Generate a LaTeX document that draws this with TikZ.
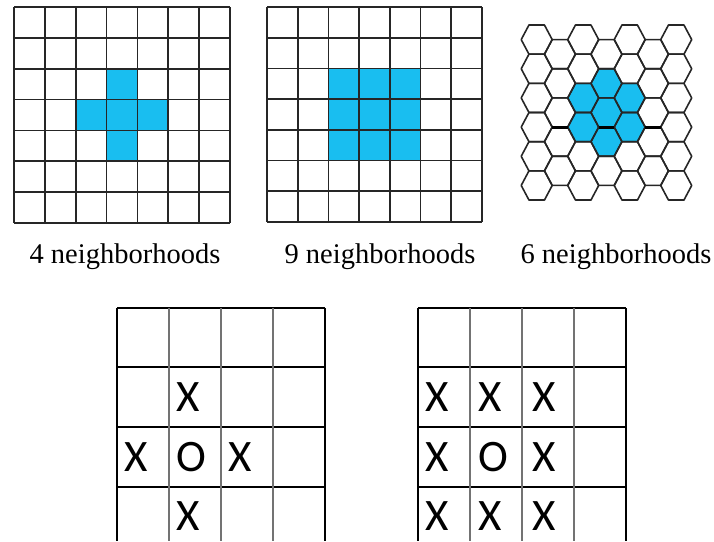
\documentclass[tikz,border=0pt]{standalone}
\usepackage{fontspec}
\setmainfont{Liberation Serif}
\newfontfamily\letterfont{Carlito}
\definecolor{cellblue}{RGB}{25,190,240}

\begin{document}
\begin{tikzpicture}[
    x=1pt, y=-1pt,
    gridline/.style={draw=black!85,line width=1.8pt},
    hexline/.style={draw=black!85,line width=1.6pt,line join=round},
    caption/.style={font=\fontsize{28.5}{30}\selectfont,inner sep=0pt,anchor=base},
    letter/.style={font=\letterfont\fontsize{45}{45}\selectfont,inner sep=0pt,anchor=west},
    rowline/.style={draw=black,line width=1.1pt},
    colline/.style={draw=black!55,line width=1.5pt},
    hexcell/.pic={\path[pic actions] (-15.5,0) -- (-7.75,-14.58) -- (7.75,-14.58) -- (15.5,0) -- (7.75,14.58) -- (-7.75,14.58) -- cycle;}
]
\useasboundingbox (0,0) rectangle (714,541);

% 4 邻域方格
\foreach \c/\r in {3/2,2/3,3/3,4/3,3/4}
    \fill[cellblue] ({14+30.86*\c},{7+30.86*\r}) rectangle ++(30.86,30.86);
\foreach \i in {0,...,7} {
    \draw[gridline] ({14+30.86*\i},7) -- ({14+30.86*\i},223);
    \draw[gridline] (14,{7+30.86*\i}) -- (230,{7+30.86*\i});
}

% 9 邻域方格
\foreach \c in {2,3,4}
    \foreach \r in {2,3,4}
        \fill[cellblue] ({267+30.7*\c},{7+30.7*\r}) rectangle ++(30.7,30.7);
\foreach \i in {0,...,7} {
    \draw[gridline] ({267+30.7*\i},7) -- ({267+30.7*\i},222);
    \draw[gridline] (267,{7+30.7*\i}) -- (482,{7+30.7*\i});
}

% 6 邻域六边形
\foreach \c/\r/\dy in {3/1/14.58,3/2/14.58,3/3/14.58,2/2/0,2/3/0,4/2/0,4/3/0}
    \pic[fill=cellblue] at ({536.7+23.25*\c},{39.6+\dy+29.17*\r}) {hexcell};
\foreach \c/\n/\dy in {0/5/0,1/4/14.58,2/5/0,3/4/14.58,4/5/0,5/4/14.58,6/5/0}
    \foreach \r in {0,...,\n}
        \pic[hexline] at ({536.7+23.25*\c},{39.6+\dy+29.17*\r}) {hexcell};
\foreach \c in {1,3,5}
    \draw[line width=3pt] ({536.7+23.25*\c-7.75},127.1) -- ({536.7+23.25*\c+7.75},127.1);

% 标题
\node[caption] (cap4) at (125,263) {4 neighborhoods};
\node[caption] (cap9) at (380,263) {9 neighborhoods};
\node[caption] (cap6) at (616,263) {6 neighborhoods};

% 下方两个表格
\foreach \x in {117,418} {
    \foreach \y in {308,367,427,487}
        \draw[rowline] (\x,\y) -- ({\x+208},\y);
    \foreach \k in {1,2,3}
        \draw[colline] ({\x+52*\k},308) -- ({\x+52*\k},541);
    \draw[rowline] (\x,308) -- (\x,541);
    \draw[rowline] ({\x+208},308) -- ({\x+208},541);
}

% 左表：4 邻域
\node[letter] (la) at (176,397) {X};
\node[letter] (lb) at (124,457) {X};
\node[letter] (lo) at (176,457) {O};
\node[letter] (lc) at (228,457) {X};
\node[letter] (ld) at (176,516) {X};

% 右表：8 邻域
\node[letter] (ra) at (425,397) {X};
\node[letter] (rb) at (478,397) {X};
\node[letter] (rc) at (532,397) {X};
\node[letter] (rd) at (425,457) {X};
\node[letter] (ro) at (478,457) {O};
\node[letter] (re) at (532,457) {X};
\node[letter] (rf) at (425,516) {X};
\node[letter] (rg) at (478,516) {X};
\node[letter] (rh) at (532,516) {X};

\end{tikzpicture}
\end{document}
